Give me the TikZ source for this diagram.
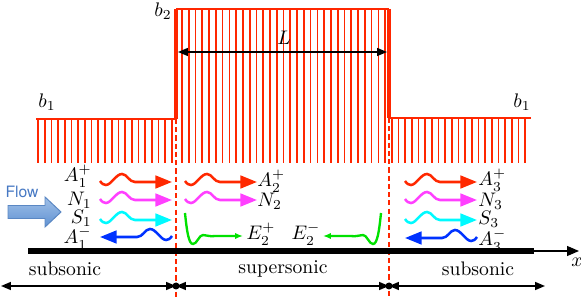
\documentclass[tikz,border=0pt]{standalone}
\usepackage{fontspec}
\newfontfamily\flowfont{TeX Gyre Heros}
\definecolor{wallred}{RGB}{255, 38, 0}
\definecolor{wavered}{RGB}{255, 40, 0}
\definecolor{wavemag}{RGB}{255, 64, 255}
\definecolor{wavecyan}{RGB}{0, 250, 255}
\definecolor{waveblue}{RGB}{0, 50, 255}
\definecolor{wavegreen}{RGB}{0, 225, 0}
\definecolor{flowlight}{RGB}{160, 192, 232}
\definecolor{flowdark}{RGB}{96, 146, 210}
\definecolor{flowedge}{RGB}{90, 135, 195}
\definecolor{flowtextc}{RGB}{70, 120, 195}
\usetikzlibrary{arrows.meta, calc}
\tikzset{
	wall/.style={draw=wallred, line width=1.4pt},
	stepwall/.style={draw=wallred, line width=2.1pt},
	hatch/.style={draw=wallred, line width=0.85pt},
	iface/.style={draw=wallred, line width=0.9pt, dash pattern=on 2.6pt off 1.6pt},
	axisline/.style={draw=black, line width=2.7pt},
	axisarrow/.style={-{Triangle[length=6pt,width=5pt]}, line width=0.6pt},
	dimline/.style={{Triangle[length=5pt,width=4pt]}-{Triangle[length=5pt,width=4pt]}, line width=0.8pt},
	lenline/.style={{Triangle[length=5pt,width=4pt]}-{Triangle[length=5pt,width=4pt]}, line width=0.7pt},
	tag/.style={inner sep=0pt},
	flowtext/.style={inner sep=0pt, text=flowtextc, font=\flowfont\footnotesize},
	pics/wavy/.style={code={
		\draw[draw=#1, line width=1.3pt, -{Triangle[length=8.5pt,width=6.5pt]}]
			(0,-1) .. controls (2,2) and (4,3) .. (6,3) .. controls (11,3) and (16,-8) .. (22,-8)
			.. controls (27,-8) and (29,0) .. (35,0) -- (72,0);
	}},
	pics/greenwave/.style={code={
		\draw[draw=wavegreen, line width=1.2pt, -{Latex[length=4pt,width=3.2pt]}]
			(0,0) .. controls (2,20) and (4,31) .. (8,31) .. controls (12,31) and (14,22) .. (18,22)
			.. controls (22,22) and (25,24) .. (30,23) -- (58,23);
	}},
}

\begin{document}
\begin{tikzpicture}[x=0.51pt, y=-0.51pt]
	\useasboundingbox (0,0) rectangle (581,297);
	\foreach \i in {0,...,20} \draw[hatch] ({38+6.7*\i},120) -- ++(0,43);
	\foreach \i in {0,...,30} \draw[hatch] ({182+6.77*\i},10) -- ++(0,153);
	\foreach \i in {0,...,20} \draw[hatch] ({392+6.65*\i},119) -- ++(0,44);
	\coordinate (inL) at (176,119);
	\coordinate (inR) at (389,118);
	\coordinate (topL) at (176,9);
	\coordinate (topR) at (389,9);
	\coordinate (ifL) at (176,297);
	\coordinate (ifR) at (389,297);
	\draw[iface] (inL) -- (ifL);
	\draw[iface] (inR) -- (ifR);
	\draw[wall] (36,119) -- (inL);
	\draw[wall] (topL) -- (topR);
	\draw[stepwall] (inL) -- (topL);
	\draw[stepwall] (topR) -- (inR);
	\draw[wall] (inR) -- (531,118);
	\node[tag] (b1l) at (47,102) {$b_1$};
	\node[tag] (b2) at (163,11) {$b_2$};
	\node[tag] (b1r) at (522,102) {$b_1$};
	\coordinate (lenL) at (178,52);
	\coordinate (lenR) at (387,52);
	\draw[lenline] (lenL) -- (lenR);
	\node[tag] (len) at (284,38) {$L$};

	\pic at (100,182) {wavy=wavered};
	\pic at (100,200) {wavy=wavemag};
	\pic at (100,220) {wavy=wavecyan};
	\pic[xscale=-1] at (172,237) {wavy=waveblue};
	\node[tag, anchor=east] (A1p) at (92,176) {$A_1^+$};
	\node[tag, anchor=east] (N1) at (92,200) {$N_1$};
	\node[tag, anchor=east] (S1) at (92,218) {$S_1$};
	\node[tag, anchor=east] (A1m) at (92,238) {$A_1^-$};

	\pic at (185,182) {wavy=wavered};
	\pic at (185,200) {wavy=wavemag};
	\pic at (185,213) {greenwave};
	\pic[xscale=-1] at (381,213) {greenwave};
	\node[tag, anchor=west] (A2p) at (257,181) {$A_2^+$};
	\node[tag, anchor=west] (N2) at (257,201) {$N_2$};
	\node[tag] (E2p) at (261,234) {$E_2^+$};
	\node[tag] (E2m) at (306,234) {$E_2^-$};

	\pic at (405,182) {wavy=wavered};
	\pic at (405,200) {wavy=wavemag};
	\pic at (405,220) {wavy=wavecyan};
	\pic[xscale=-1] at (477,238) {wavy=waveblue};
	\node[tag, anchor=west] (A3p) at (478,180) {$A_3^+$};
	\node[tag, anchor=west] (N3) at (478,201) {$N_3$};
	\node[tag, anchor=west] (S3) at (478,219) {$S_3$};
	\node[tag, anchor=west] (A3m) at (478,240) {$A_3^-$};

	\shade[top color=flowlight, bottom color=flowdark, draw=flowedge, line width=0.5pt]
		(8,205.5) -- (45,205.5) -- (45,197) -- (61,212) -- (45,227) -- (45,218.5) -- (8,218.5) -- cycle;
	\node[flowtext] (flow) at (22,192) {Flow};

	\coordinate (ax0) at (28,251);
	\coordinate (ax1) at (534,251);
	\coordinate (ax2) at (579,251);
	\draw[axisline] (ax0) -- (ax1);
	\draw[axisarrow] (ax1) -- (ax2);
	\node[tag] (xlab) at (577,262) {$x$};

	\node[tag] (sub1) at (65,269) {subsonic};
	\node[tag] (sup) at (283,269) {supersonic};
	\node[tag] (sub3) at (478,269) {subsonic};
	\coordinate (bE) at (1,286);
	\coordinate (bL) at (176,286);
	\coordinate (bR) at (389,286);
	\coordinate (bF) at (545,286);
	\draw[dimline] (bE) -- (bL);
	\draw[dimline] (bL) -- (bR);
	\draw[dimline] (bR) -- (bF);
	\fill (bL) circle (3.5);
	\fill (bR) circle (3.5);
\end{tikzpicture}
\end{document}
